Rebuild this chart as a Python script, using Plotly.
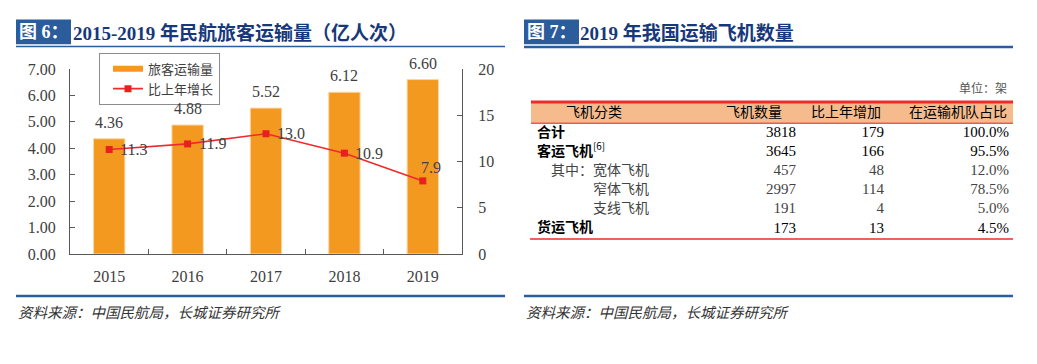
import plotly.graph_objects as go

# ---------------- data ----------------
years = ["2015", "2016", "2017", "2018", "2019"]
passenger_volume = [4.36, 4.88, 5.52, 6.12, 6.60]      # 旅客运输量（亿人次）
yoy_growth = [11.3, 11.9, 13.0, 10.9, 7.9]              # 比上年增长（%）
left_ticks = [0, 1, 2, 3, 4, 5, 6, 7]
right_ticks = [0, 5, 10, 15, 20]

table_header = ["飞机分类", "飞机数量", "比上年增加", "在运输机队占比"]
aircraft_category = ["合计", "客运飞机", "其中：宽体飞机", "窄体飞机", "支线飞机", "货运飞机"]
category_note = ["", "[6]", "", "", "", ""]
aircraft_count = [3818, 3645, 457, 2997, 191, 173]
increase_vs_last_year = [179, 166, 48, 114, 4, 13]
fleet_share_pct = [100.0, 95.5, 12.0, 78.5, 5.0, 4.5]

# ---------------- styles / layout ----------------
W, H = 1037, 364
ORANGE = "#F4991F"
RED = "#EE2A2A"
BLUE = "#2B5C9C"
NAVY = "#17387A"
TXT = "#404040"
NUMFONT = "Liberation Serif, Noto Sans CJK SC, serif"
CJK = "Noto Sans CJK SC, sans-serif"

def fx(p):
    return p / W

def fy(p):
    return 1 - p / H

row_indent = [0, 0, 1, 4, 4, 0]
row_main = [True, True, False, False, False, True]
row0_px, row_pitch = 131.2, 20.1
col_left_px = 537
col_right_px = [796, 884, 1009]
header_px = [594, 782, 881, 1007]

fig = go.Figure()

# ---- left chart ----
fig.add_trace(go.Bar(
    x=years, y=passenger_volume, name="旅客运输量",
    marker=dict(color=ORANGE, line=dict(color="#FBD7A6", width=1)),
    showlegend=False, legendgroup="a", xaxis="x", yaxis="y"))
fig.add_trace(go.Scatter(
    x=[None], y=[None], mode="lines", name="旅客运输量", legendgroup="a",
    line=dict(color=ORANGE, width=6), xaxis="x", yaxis="y"))
fig.add_trace(go.Scatter(
    x=years, y=yoy_growth, name="比上年增长", legendgroup="b",
    mode="lines+markers", line=dict(color=RED, width=1.6),
    marker=dict(symbol="square", size=7, color="#E82020"),
    xaxis="x", yaxis="y2"))

annotations = []
# annotations on a category axis are positioned by category index
for i, v in enumerate(passenger_volume):
    annotations.append(dict(x=i, y=v, xref="x", yref="y", text=f"{v:.2f}",
                            showarrow=False, yanchor="bottom", yshift=6,
                            font=dict(family=NUMFONT, size=16, color=TXT)))
for i, v in enumerate(yoy_growth):
    last = i == len(years) - 1
    annotations.append(dict(x=i, y=v, xref="x", yref="y2", text=f"{v:.1f}",
                            showarrow=False,
                            xanchor="center" if last else "left",
                            yanchor="middle",
                            xshift=8 if last else 9,
                            yshift=13 if last else 0,
                            font=dict(family=NUMFONT, size=16, color=TXT)))

# ---- right table (text traces on hidden axes) ----
labels = []
for cat, note, ind, main in zip(aircraft_category, category_note, row_indent, row_main):
    t = f"<b>{cat}</b>" if main else cat
    if note:
        t += f"<sup>{note}</sup>"
    labels.append("\u3000" * ind + t)
row_colors = ["#000000" if m else "#444444" for m in row_main]
rows = list(range(len(aircraft_category)))

fig.add_trace(go.Scatter(
    x=header_px, y=[-1] * 4, text=table_header, mode="text",
    textposition=["middle center", "middle left", "middle left", "middle left"],
    textfont=dict(family=CJK, size=14, color="#000000"),
    showlegend=False, hoverinfo="skip", xaxis="x3", yaxis="y3"))
fig.add_trace(go.Scatter(
    x=[col_left_px] * len(rows), y=rows, text=labels, mode="text",
    textposition="middle right",
    textfont=dict(family=CJK, size=14, color=row_colors),
    showlegend=False, hoverinfo="skip", xaxis="x3", yaxis="y3"))
for cx, vals in zip(col_right_px, [
        [str(v) for v in aircraft_count],
        [str(v) for v in increase_vs_last_year],
        [f"{v:.1f}%" for v in fleet_share_pct]]):
    fig.add_trace(go.Scatter(
        x=[cx] * len(rows), y=rows, text=vals, mode="text",
        textposition="middle left",
        textfont=dict(family=NUMFONT, size=15, color=row_colors),
        showlegend=False, hoverinfo="skip", xaxis="x3", yaxis="y3"))

# ---- titles, notes ----
def title(x_box, x_text, label, text):
    annotations.append(dict(x=fx(x_box), y=fy(25), xref="paper", yref="paper",
                            text=f"<b>{label}</b>", showarrow=False,
                            xanchor="left", yanchor="middle",
                            font=dict(family=NUMFONT, size=18, color="white")))
    annotations.append(dict(x=fx(x_text), y=fy(26), xref="paper", yref="paper",
                            text=f"<b>{text}</b>", showarrow=False,
                            xanchor="left", yanchor="middle",
                            font=dict(family=NUMFONT, size=19, color=NAVY)))

title(17, 71, "图 6：", "2015-2019 年民航旅客运输量（亿人次）")
title(525, 578, "图 7：", "2019 年我国运输飞机数量")

for x0 in (16, 524):
    annotations.append(dict(x=fx(x0), y=fy(318), xref="paper", yref="paper",
                            text="<i>资料来源：中国民航局，长城证券研究所</i>",
                            showarrow=False, xanchor="left", yanchor="middle",
                            font=dict(family=CJK, size=14.5, color="#333333")))
annotations.append(dict(x=fx(1009), y=fy(83), xref="paper", yref="paper",
                        text="单位：架", showarrow=False, xanchor="right",
                        yanchor="middle",
                        font=dict(family=CJK, size=12, color="#555555")))

def rect(x0, y0, x1, y1, color, layer="above"):
    return dict(type="rect", xref="paper", yref="paper", x0=fx(x0), x1=fx(x1),
                y0=fy(y1), y1=fy(y0), fillcolor=color, line=dict(width=0),
                layer=layer)

def hline(x0, x1, y, color, width):
    return dict(type="line", xref="paper", yref="paper", x0=fx(x0), x1=fx(x1),
                y0=fy(y), y1=fy(y), line=dict(color=color, width=width))

shapes = [
    rect(16, 12, 71, 38, BLUE, "below"),
    rect(524, 12, 579, 38, BLUE, "below"),
    hline(16, 505, 40.5, BLUE, 1.5),
    hline(524, 1013, 41, BLUE, 2.5),
    rect(531, 99, 1013, 121, "#F6BB8D", "below"),
    hline(531, 1013, 98.5, RED, 3),
    hline(531, 1013, 121, "#EF5A50", 1.5),
    hline(530, 1013, 242.3, RED, 1.5),
    hline(16, 505, 302, BLUE, 2.5),
    hline(524, 1013, 302, BLUE, 2.5),
]

axis_common = dict(showgrid=False, zeroline=False, showline=True,
                   linecolor="#595959", linewidth=1, ticks="inside",
                   tickcolor="#595959", ticklen=5,
                   tickfont=dict(family=NUMFONT, size=16, color=TXT))

fig.update_layout(
    width=W, height=H,
    margin=dict(l=0, r=0, t=0, b=0),
    paper_bgcolor="white", plot_bgcolor="rgba(0,0,0,0)",
    bargap=0.6,
    xaxis=dict(domain=[fx(70), fx(462)], anchor="y", type="category",
               categoryorder="array", categoryarray=years,
               range=[-0.5, len(years) - 0.5],
               tickson="boundaries", ticklabelstandoff=8, **axis_common),
    yaxis=dict(domain=[fy(258), fy(64)], anchor="x", range=[0, 7],
               tickvals=left_ticks, tickformat=".2f", ticklabelstandoff=10,
               **axis_common),
    yaxis2=dict(overlaying="y", side="right", anchor="x", range=[0, 20],
                tickvals=right_ticks, ticklabelstandoff=12, **axis_common),
    xaxis3=dict(domain=[0, 1], range=[0, W], visible=False, anchor="y3",
                fixedrange=True),
    yaxis3=dict(domain=[0, 1], visible=False, anchor="x3", fixedrange=True,
                range=[(H - row0_px) / row_pitch, -row0_px / row_pitch]),
    legend=dict(x=fx(99), y=fy(47), xanchor="left", yanchor="top",
                bgcolor="white", bordercolor="#8C8C8C", borderwidth=1,
                indentation=8,
                font=dict(family=CJK, size=13, color=TXT),
                traceorder="normal"),
    annotations=annotations,
    shapes=shapes,
)

fig.write_html("out.html",
               config={"displayModeBar": False},
               post_script="document.body.style.margin='0';"
                           "document.body.style.overflow='hidden';")
